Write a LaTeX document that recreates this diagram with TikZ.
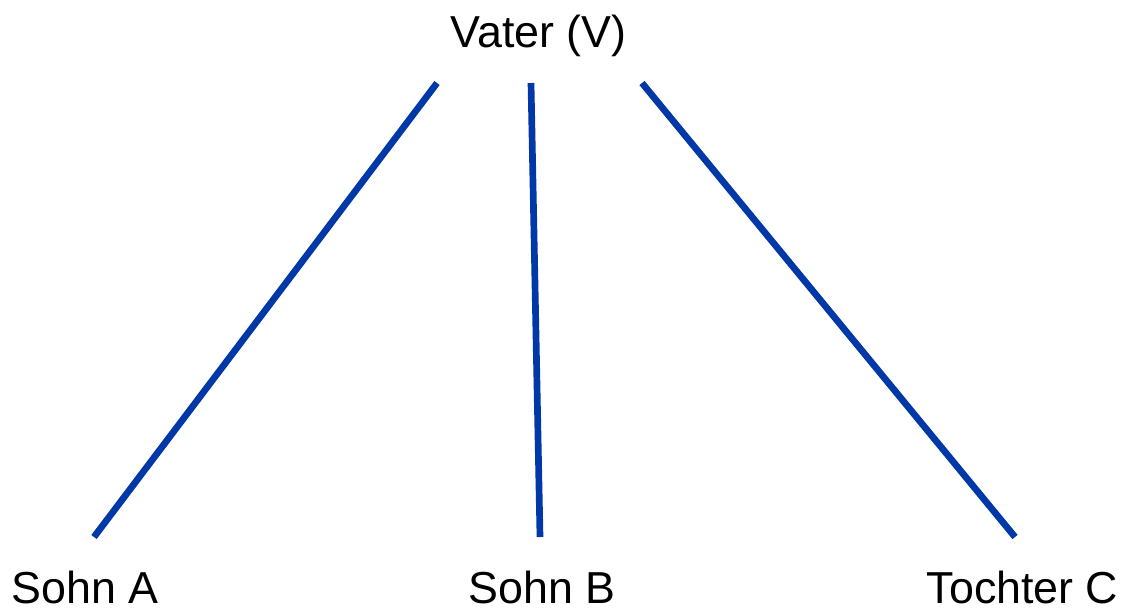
\documentclass[tikz,border=0pt]{standalone}
\usepackage{fontspec}
\setmainfont{Liberation Sans}
\usetikzlibrary{positioning}
\definecolor{linkblue}{RGB}{0,56,168}

\begin{document}
\begin{tikzpicture}[x=0.02cm, y=-0.02cm,
    person/.style={anchor=base, inner sep=0pt, font=\fontsize{25.5}{30}\selectfont},
    link/.style={linkblue, line width=3.8pt}]
  \useasboundingbox (0,0) rectangle (1124,612);

  % Personen
  \node[person] (vater)   at (538.5,47) {Vater (V)};
  \node[person] (sohnA)   at (85,603)   {Sohn A};
  \node[person] (sohnB)   at (542,603)  {Sohn B};
  \node[person] (tochter) at (1022.5,603) {Tochter C};

  % Enden der Verbindungen
  \coordinate (vL) at (437,83);
  \coordinate (vM) at (531,83);
  \coordinate (vR) at (642,83);
  \coordinate (kA) at (94,537);
  \coordinate (kB) at (540,537);
  \coordinate (kC) at (1015,537);

  % Verbindungen Vater -> Kinder
  \draw[link] (vL) -- (kA);
  \draw[link] (vM) -- (kB);
  \draw[link] (vR) -- (kC);
\end{tikzpicture}
\end{document}
